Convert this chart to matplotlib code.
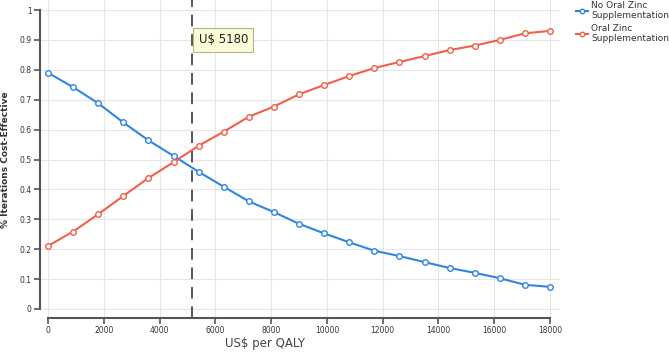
import matplotlib
matplotlib.use("Agg")
import matplotlib.pyplot as plt

# --- data --- #
wtp = [0, 900, 1800, 2700, 3600, 4500, 5400, 6300, 7200, 8100, 9000,
       9900, 10800, 11700, 12600, 13500, 14400, 15300, 16200, 17100, 18000]
no_zinc = [0.790, 0.742, 0.688, 0.624, 0.564, 0.512, 0.459, 0.409, 0.360, 0.324, 0.285,
           0.253, 0.223, 0.195, 0.177, 0.157, 0.137, 0.121, 0.103, 0.081, 0.074]
oral_zinc = [0.211, 0.259, 0.317, 0.378, 0.438, 0.491, 0.546, 0.593, 0.643, 0.677, 0.718,
             0.749, 0.779, 0.806, 0.826, 0.846, 0.866, 0.881, 0.900, 0.922, 0.930]
threshold = 5180
x_ticks = list(range(0, 18001, 2000))
y_ticks = [0, 0.1, 0.2, 0.3, 0.4, 0.5, 0.6, 0.7, 0.8, 0.9, 1]
y_tick_labels = ["0", "0.1", "0.2", "0.3", "0.4", "0.5", "0.6", "0.7", "0.8", "0.9", "1"]

BLUE = "#2f86e0"
RED = "#f0604a"
AXIS = "#555555"

fig = plt.figure(figsize=(6.69, 3.53), dpi=100)
W, H = 669, 353
# axes spans from left spine (x=40) to x=560, top of fig to bottom spine (y=318)
ax = fig.add_axes([40 / W, (H - 318) / H, 520 / W, 318 / H])

px_per_x = 502 / 18000
ax.set_xlim(-8 / px_per_x, 18000 + 10 / px_per_x)
ax.set_ylim(-9 / 299, 1 + 10 / 299)

ax.grid(True, color="#e6e6e6", linewidth=0.8)
ax.set_axisbelow(True)

ax.plot(wtp, no_zinc, color=BLUE, linewidth=1.5, marker="o", markersize=4,
        markerfacecolor="white", markeredgecolor=BLUE, markeredgewidth=1,
        label="No Oral Zinc\nSupplementation", zorder=3)
ax.plot(wtp, oral_zinc, color=RED, linewidth=1.5, marker="o", markersize=4,
        markerfacecolor="white", markeredgecolor=RED, markeredgewidth=1,
        label="Oral Zinc\nSupplementation", zorder=3)

ax.axvline(threshold, color="#555555", linewidth=1.4, linestyle=(0, (6, 4)), zorder=2)
ax.text(threshold + 220, 0.9, f"U$ {threshold}", fontsize=8.5, color="#222222",
        va="center", ha="left",
        bbox=dict(boxstyle="square,pad=0.45", facecolor="#fbfbd8", edgecolor="#b5b58a",
                  linewidth=0.8), zorder=4)

ax.set_xticks(x_ticks)
ax.set_xticklabels([str(t) for t in x_ticks])
ax.set_yticks(y_ticks)
ax.set_yticklabels(y_tick_labels)
ax.tick_params(axis="both", labelsize=5.5, colors=AXIS, length=4, width=1.2,
               labelcolor="#333333", pad=2)

for side in ["top", "right"]:
    ax.spines[side].set_visible(False)
for side in ["left", "bottom"]:
    ax.spines[side].set_color(AXIS)
    ax.spines[side].set_linewidth(1.5)
ax.spines["left"].set_bounds(0, 1)
ax.spines["bottom"].set_bounds(0, 18000)

fig.text(6 / W, (H - 160) / H, "% Iterations Cost-Effective", rotation=90,
         fontsize=6.5, fontweight="bold", color="#333333", va="center", ha="center")
fig.text(265 / W, (H - 343) / H, "US$ per QALY", fontsize=8.5, color="#444444",
         va="center", ha="center")

leg = fig.legend(loc="upper left", bbox_to_anchor=(576 / W, 0.997), frameon=False,
                 fontsize=6.5, handlelength=1.3, handletextpad=0.4, labelspacing=0.5,
                 borderaxespad=0.0, borderpad=0.0, markerscale=0.8)
for t in leg.get_texts():
    t.set_color("#333333")
    t.set_linespacing(1.1)

fig.savefig("out.png", dpi=100)
